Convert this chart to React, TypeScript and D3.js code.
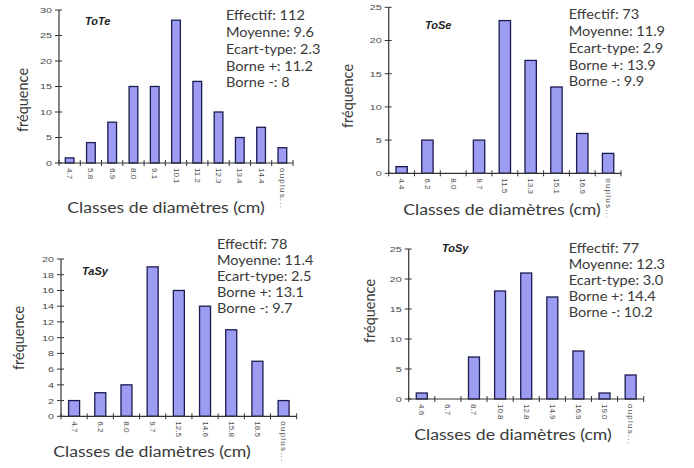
import React from "react";
import * as d3 from "d3";

// Histogram data: diameter classes (cm) and counts for each stand
const toteClasses = ["4.7", "5.8", "6.9", "8.0", "9.1", "10.1", "11.2", "12.3", "13.4", "14.4", "ouplus..."];
const toteCounts = [1, 4, 8, 15, 15, 28, 16, 10, 5, 7, 3];
const toteStats = ["Effectif: 112", "Moyenne: 9.6", "Ecart-type: 2.3", "Borne +: 11.2", "Borne -: 8"];

const toseClasses = ["4.4", "6.2", "8.0", "9.7", "11.5", "13.3", "15.1", "16.9", "ouplus..."];
const toseCounts = [1, 5, 0, 5, 23, 17, 13, 6, 3];
const toseStats = ["Effectif: 73", "Moyenne: 11.9", "Ecart-type: 2.9", "Borne +: 13.9", "Borne -: 9.9"];

const tasyClasses = ["4.7", "6.2", "8.0", "9.7", "12.5", "14.6", "15.8", "18.5", "ouplus..."];
const tasyCounts = [2, 3, 4, 19, 16, 14, 11, 7, 2];
const tasyStats = ["Effectif: 78", "Moyenne: 11.4", "Ecart-type: 2.5", "Borne +: 13.1", "Borne -: 9.7"];

const tosyClasses = ["4.6", "6.7", "8.7", "10.8", "12.8", "14.9", "16.9", "19.0", "ouplus..."];
const tosyCounts = [1, 0, 7, 18, 21, 17, 8, 1, 4];
const tosyStats = ["Effectif: 77", "Moyenne: 12.3", "Ecart-type: 3.0", "Borne +: 14.4", "Borne -: 10.2"];

const yTicksBy5 = [0, 5, 10, 15, 20, 25, 30];
const yTicksBy5Short = [0, 5, 10, 15, 20, 25];
const yTicksBy2 = [0, 2, 4, 6, 8, 10, 12, 14, 16, 18, 20];

const BAR_FILL = "#9c9cf2";
const BAR_STROKE = "#1c1c50";
const AXIS = "#333";
const TEXT = "#3a3a3a";
const SANS = "Lato, 'Open Sans', sans-serif";
const ARIAL = "'Liberation Sans', Arial, sans-serif";

type PanelProps = {
  title: string;
  classes: string[];
  counts: number[];
  stats: string[];
  yTicks: number[];
  x0: number;
  x1: number;
  yTop: number;
  yBottom: number;
  titleX: number;
  titleY: number;
  statsX: number;
  statsY: number;
  statsStep: number;
  ylabX: number;
  ylabY: number;
  xlabX: number;
  xlabY: number;
  barRatio: number;
};

function Panel(p: PanelProps) {
  const yMax = p.yTicks[p.yTicks.length - 1];
  const x = d3.scaleBand<string>().domain(p.classes).range([p.x0, p.x1]).paddingInner(0).paddingOuter(0);
  const y = d3.scaleLinear().domain([0, yMax]).range([p.yBottom, p.yTop]);
  const bw = x.bandwidth() * p.barRatio;
  const bounds = d3.range(p.classes.length + 1).map((i) => p.x0 + i * x.bandwidth());

  return (
    <g>
      {p.classes.map((c, i) => (
        <rect
          key={c + i}
          x={(x(c) as number) + (x.bandwidth() - bw) / 2}
          y={y(p.counts[i])}
          width={bw}
          height={p.yBottom - y(p.counts[i])}
          fill={BAR_FILL}
          stroke={BAR_STROKE}
          strokeWidth={1.3}
        />
      ))}
      {/* y axis */}
      <line x1={p.x0} x2={p.x0} y1={p.yTop} y2={p.yBottom} stroke={AXIS} strokeWidth={1.2} />
      {p.yTicks.map((t) => (
        <g key={t}>
          <line x1={p.x0 - 4} x2={p.x0 + 3} y1={y(t)} y2={y(t)} stroke={AXIS} strokeWidth={1} />
          <text
            transform={`translate(${p.x0 - 7},${y(t)}) scale(1.35,1)`}
            textAnchor="end"
            dominantBaseline="central"
            fontFamily={ARIAL}
            fontSize={8}
            fill="#4a4a4a"
          >
            {t}
          </text>
        </g>
      ))}
      {/* x axis */}
      <line x1={p.x0} x2={p.x1} y1={p.yBottom} y2={p.yBottom} stroke={AXIS} strokeWidth={1.2} />
      {bounds.map((bx, i) => (
        <line key={i} x1={bx} x2={bx} y1={p.yBottom - 3} y2={p.yBottom + 3} stroke={AXIS} strokeWidth={1} />
      ))}
      {p.classes.map((c) => {
        const cx = (x(c) as number) + x.bandwidth() / 2;
        const ty = p.yBottom + 5;
        const long = c.length > 5;
        return (
          <text
            key={c}
            x={cx}
            y={ty}
            transform={`rotate(90 ${cx} ${ty})`}
            dominantBaseline="central"
            fontFamily={ARIAL}
            fontSize={8}
            fill="#4a4a4a"
            textLength={long ? 40 : undefined}
            lengthAdjust={long ? "spacing" : undefined}
          >
            {c}
          </text>
        );
      })}
      <text
        x={p.titleX}
        y={p.titleY}
        dominantBaseline="central"
        fontFamily={ARIAL}
        fontWeight="bold"
        fontStyle="italic"
        fontSize={11}
        fill="#222"
      >
        {p.title}
      </text>
      {p.stats.map((s, i) => (
        <text
          key={s}
          transform={`translate(${p.statsX},${p.statsY + i * p.statsStep}) scale(1.12,1)`}
          dominantBaseline="central"
          fontFamily={SANS}
          fontSize={13}
          fill={TEXT}
        >
          {s}
        </text>
      ))}
      <text
        x={p.ylabX}
        y={p.ylabY}
        transform={`rotate(-90 ${p.ylabX} ${p.ylabY})`}
        textAnchor="middle"
        dominantBaseline="central"
        fontFamily={SANS}
        fontSize={14.5}
        fill={TEXT}
      >
        fréquence
      </text>
      <text
        transform={`translate(${p.xlabX},${p.xlabY}) scale(1.18,1)`}
        textAnchor="middle"
        dominantBaseline="central"
        fontFamily={SANS}
        fontSize={15}
        fill={TEXT}
      >
        Classes de diamètres (cm)
      </text>
    </g>
  );
}

export default function App() {
  return (
    <svg
      width={694}
      height={468}
      style={{ position: "absolute", left: 0, top: 0, background: "#fff" }}
    >
      <rect width={694} height={468} fill="#fff" />
      <Panel
        title="ToTe"
        classes={toteClasses}
        counts={toteCounts}
        stats={toteStats}
        yTicks={yTicksBy5}
        x0={59}
        x1={293}
        yTop={10}
        yBottom={163}
        titleX={85}
        titleY={21}
        statsX={226}
        statsY={15}
        statsStep={16.8}
        ylabX={22}
        ylabY={100}
        xlabX={166}
        xlabY={207}
        barRatio={0.41}
      />
      <Panel
        title="ToSe"
        classes={toseClasses}
        counts={toseCounts}
        stats={toseStats}
        yTicks={yTicksBy5Short}
        x0={388.7}
        x1={621}
        yTop={7.3}
        yBottom={173.3}
        titleX={425}
        titleY={25}
        statsX={568.7}
        statsY={14}
        statsStep={16.8}
        ylabX={347}
        ylabY={96}
        xlabX={502}
        xlabY={209}
        barRatio={0.44}
      />
      <Panel
        title="TaSy"
        classes={tasyClasses}
        counts={tasyCounts}
        stats={tasyStats}
        yTicks={yTicksBy2}
        x0={61}
        x1={296.7}
        yTop={259}
        yBottom={416.3}
        titleX={82}
        titleY={271}
        statsX={217}
        statsY={244}
        statsStep={16}
        ylabX={18}
        ylabY={338}
        xlabX={152}
        xlabY={451}
        barRatio={0.42}
      />
      <Panel
        title="ToSy"
        classes={tosyClasses}
        counts={tosyCounts}
        stats={tosyStats}
        yTicks={yTicksBy5Short}
        x0={408.7}
        x1={643.7}
        yTop={249}
        yBottom={399}
        titleX={442}
        titleY={248}
        statsX={568.7}
        statsY={248}
        statsStep={16}
        ylabX={369}
        ylabY={311}
        xlabX={513}
        xlabY={434}
        barRatio={0.42}
      />
    </svg>
  );
}
